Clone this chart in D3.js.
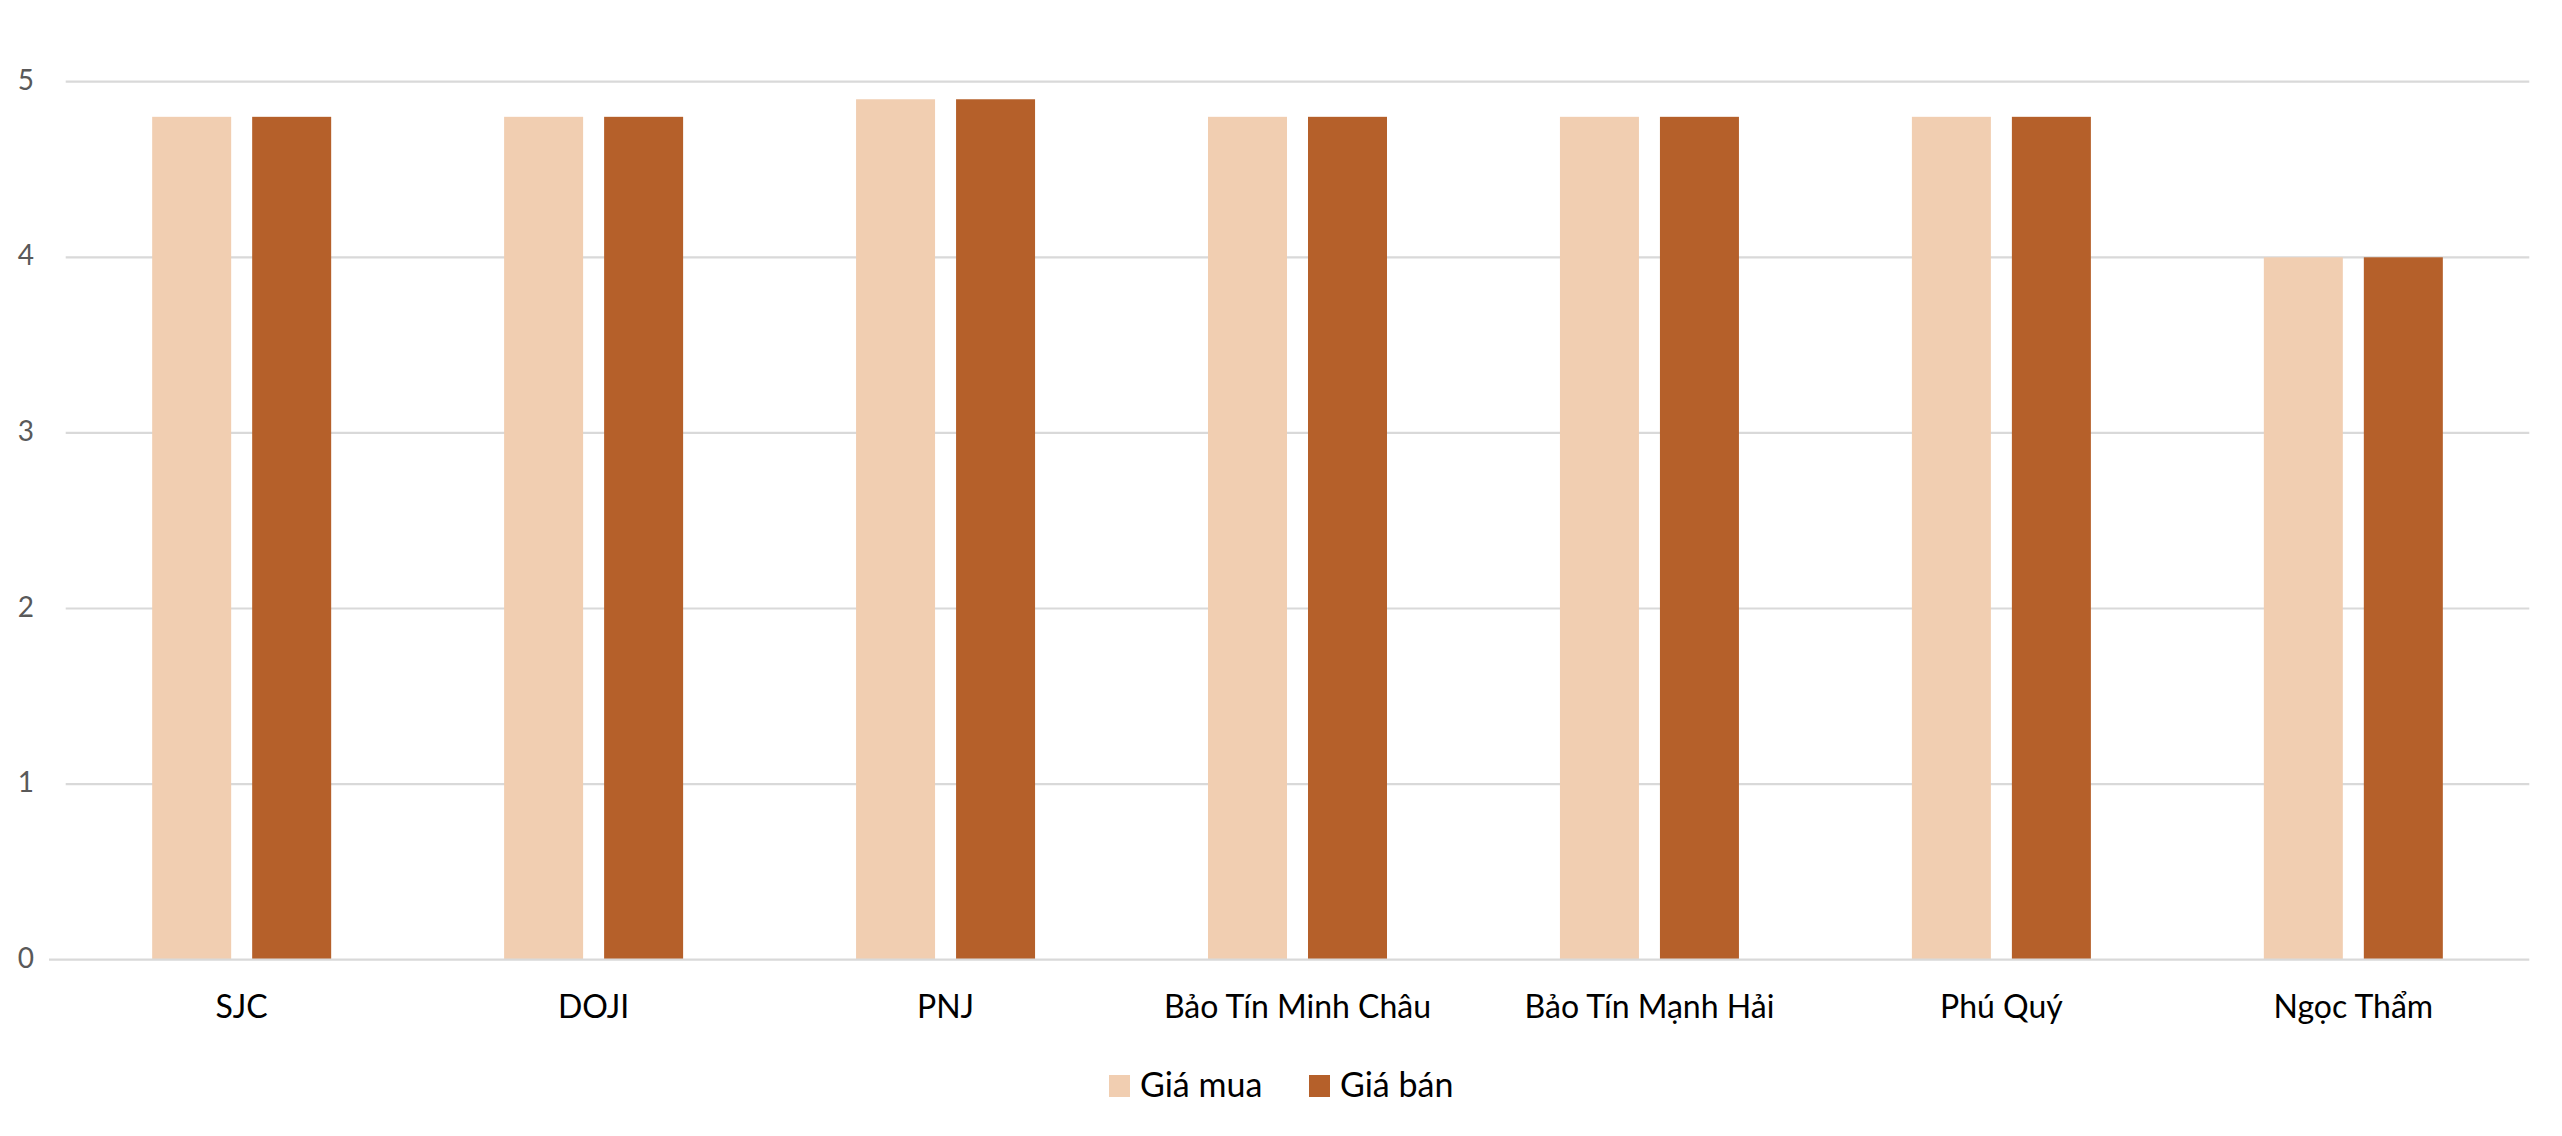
<!DOCTYPE html>
<html><head><meta charset="utf-8">
<script src="https://cdn.jsdelivr.net/npm/d3@7"></script>
<style>html,body{margin:0;padding:0;background:#fff;}svg{display:block;}</style>
</head><body>
<svg id="chart" width="2562" height="1136"></svg>
<script>
const categories = ["SJC","DOJI","PNJ","Bảo Tín Minh Châu","Bảo Tín Mạnh Hải","Phú Quý","Ngọc Thẩm"];
const seriesNames = ["Giá mua","Giá bán"];
const giaMua = [4.8,4.8,4.9,4.8,4.8,4.8,4.0];
const giaBan = [4.8,4.8,4.9,4.8,4.8,4.8,4.0];
const yTicks = [0,1,2,3,4,5];
const colors = ["#F1CEB1","#B5602A"];

(function(){
const svg = d3.select("#chart");
const pLeft = 65.7, pRight = 2529.3, pTop = 81.7, pBottom = 959.7;
const font = "Lato, 'Open Sans', sans-serif";

const x = d3.scaleBand().domain(categories).range([pLeft,pRight]).paddingInner(0).paddingOuter(0);
const y = d3.scaleLinear().domain([0,5]).range([pBottom,pTop]);
const barW = 79, barGap = 21;
const groupW = 2*barW+barGap;
const xs = d3.scaleBand().domain([0,1]).range([0,groupW]).paddingInner(barGap/(barW+barGap)).paddingOuter(0);

// gridlines
svg.append("g").selectAll("line").data(yTicks.filter(d=>d>0)).join("line")
  .attr("x1",pLeft).attr("x2",pRight)
  .attr("y1",d=>y(d)).attr("y2",d=>y(d))
  .attr("stroke","#D9D9D9").attr("stroke-width",2.2);

// y labels
svg.append("g").selectAll("text").data(yTicks).join("text")
  .attr("x",34).attr("y",d=>y(d)+8)
  .attr("text-anchor","end")
  .attr("font-family",font).attr("font-size",28).attr("fill","#595959")
  .text(d=>d);

const data = categories.map((c,i)=>({c, vals:[giaMua[i],giaBan[i]]}));
const g = svg.append("g").selectAll("g").data(data).join("g")
  .attr("transform",d=>`translate(${x(d.c)+x.bandwidth()/2-groupW/2},0)`);
g.selectAll("rect").data(d=>d.vals.map((v,k)=>({v,k}))).join("rect")
  .attr("x",d=>xs(d.k)).attr("width",xs.bandwidth())
  .attr("y",d=>y(d.v)).attr("height",d=>y(0)-y(d.v))
  .attr("fill",d=>colors[d.k]);

// zero axis line
svg.append("line").attr("x1",49).attr("x2",pRight).attr("y1",y(0)).attr("y2",y(0))
  .attr("stroke","#D9D9D9").attr("stroke-width",2.2);

// x labels
svg.append("g").selectAll("text").data(categories).join("text")
  .attr("x",d=>x(d)+x.bandwidth()/2).attr("y",1018)
  .attr("text-anchor","middle")
  .attr("font-family",font).attr("font-size",32).attr("fill","#000")
  .text(d=>d);

// legend
const legendItems = [{n:seriesNames[0],c:colors[0],x:1109},{n:seriesNames[1],c:colors[1],x:1309}];
const lg = svg.append("g").selectAll("g").data(legendItems).join("g");
lg.append("rect").attr("x",d=>d.x).attr("y",1075).attr("width",21).attr("height",22).attr("fill",d=>d.c);
lg.append("text").attr("x",d=>d.x+31).attr("y",1097)
  .attr("font-family",font).attr("font-size",34).attr("fill","#000")
  .text(d=>d.n);
})();
</script>
</body></html>
